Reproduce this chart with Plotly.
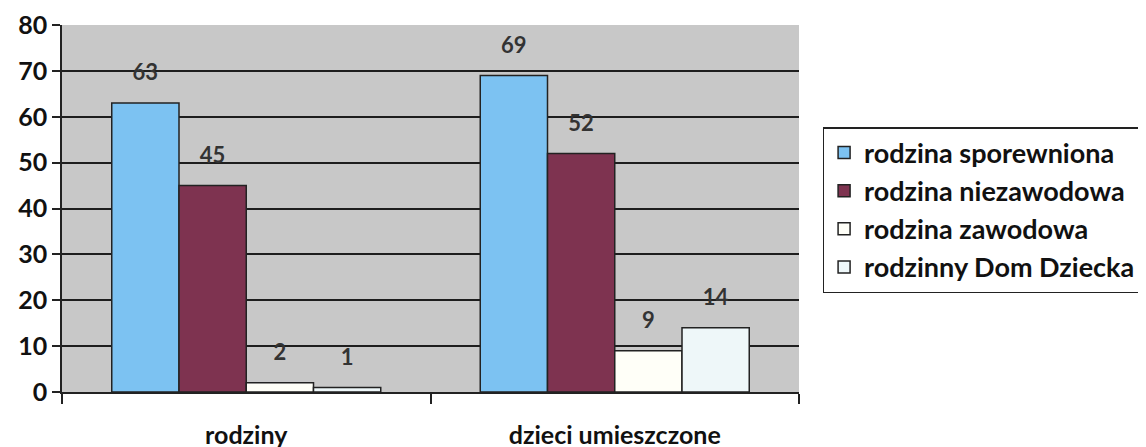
import plotly.graph_objects as go

categories = ["rodziny", "dzieci umieszczone"]
series_names = ["rodzina sporewniona", "rodzina niezawodowa", "rodzina zawodowa", "rodzinny Dom Dziecka"]
series_values = [
    [63, 69],
    [45, 52],
    [2, 9],
    [1, 14],
]
series_colors = ["#7cc2f2", "#7e3350", "#fffff8", "#eef7f9"]
y_ticks = [0, 10, 20, 30, 40, 50, 60, 70, 80]

FONT = "Lato"
fig = go.Figure()
for name, vals, col in zip(series_names, series_values, series_colors):
    fig.add_trace(go.Bar(
        name=name, x=categories, y=vals,
        marker=dict(color=col, line=dict(color="#222222", width=1.5)),
    ))
for name, vals in zip(series_names, series_values):
    fig.add_trace(go.Scatter(
        name=name, x=categories, y=vals, mode="markers+text",
        text=[str(v) for v in vals], textposition="top center",
        marker=dict(size=26, opacity=0),
        textfont=dict(family=FONT, size=22, color="#333333", weight="bold"),
        showlegend=False, hoverinfo="skip", cliponaxis=False,
    ))

fig.update_layout(
    width=1146, height=447,
    margin=dict(l=54, r=349, t=17, b=63),
    paper_bgcolor="white", plot_bgcolor="#c8c8c8",
    barmode="group", bargap=0.27, bargroupgap=0,
    scattermode="group", scattergap=0.27,
    font=dict(family=FONT, size=20, color="#1a1a1a"),
    showlegend=True,
    legend=dict(
        x=1.032, y=0.722, xanchor="left", yanchor="top",
        bgcolor="white", bordercolor="#222222", borderwidth=1.5,
        font=dict(family=FONT, size=27, color="#111111", weight="bold"),
        tracegroupgap=0,
    ),
)
fig.update_xaxes(
    showline=True, linecolor="#222222", linewidth=1.5, automargin=False,
    ticks="outside", tickson="boundaries", ticklen=10, tickcolor="#222222", tickwidth=1.5,
    tickfont=dict(family=FONT, size=25, color="#111111", weight="bold"),
    ticklabelstandoff=20, ticklabeloverflow="allow",
)
fig.update_yaxes(
    range=[0, 80], tickvals=y_ticks, automargin=False,
    showline=True, linecolor="#222222", linewidth=1.5,
    ticks="outside", ticklen=8, tickcolor="#222222", tickwidth=1.5,
    showgrid=True, gridcolor="#1e1e1e", gridwidth=1.5,
    tickfont=dict(family=FONT, size=25, color="#111111", weight="bold"),
    zeroline=False, ticklabeloverflow="allow",
)
fig.write_html("out.html")
